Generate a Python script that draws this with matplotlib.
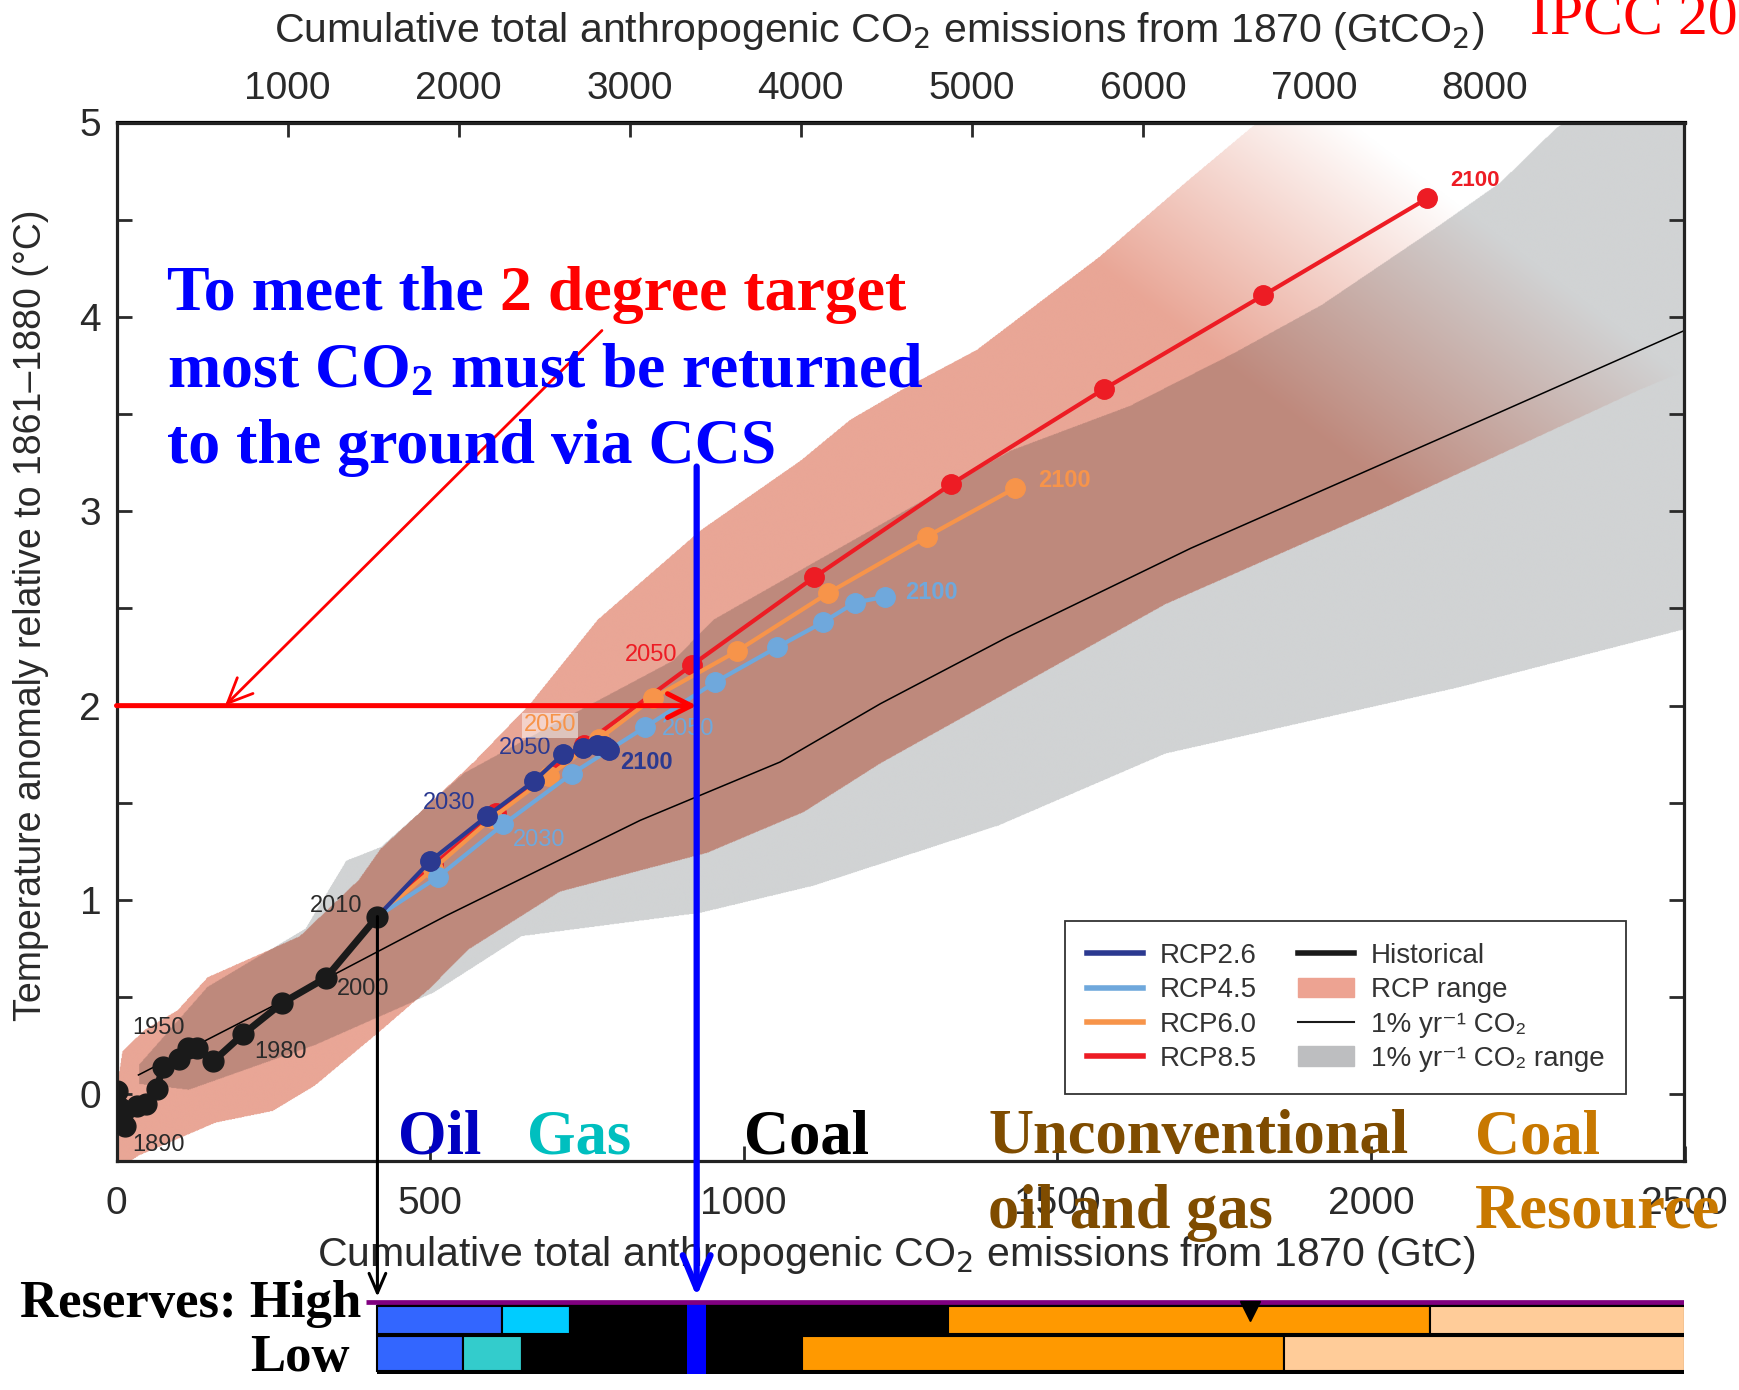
import numpy as np
import matplotlib
matplotlib.use("Agg")
import matplotlib.pyplot as plt
from matplotlib.path import Path
from matplotlib.patches import ConnectionPatch, Patch
from matplotlib.lines import Line2D

plt.rcParams['font.family'] = ['Liberation Sans', 'DejaVu Sans']
plt.rcParams['mathtext.fontset'] = 'dejavusans'
plt.rcParams['mathtext.rm'] = 'Liberation Serif:bold'
plt.rcParams['mathtext.it'] = 'Liberation Serif:bold'
plt.rcParams['mathtext.bf'] = 'Liberation Serif:bold'

# ---------------- data (cumulative GtC, temperature anomaly degC) ----------------
hist_years = [1870, 1880, 1890, 1900, 1910, 1920, 1930, 1940, 1950, 1960, 1970, 1980, 1990, 2000, 2010]
hist_x = [0, 5, 13, 32, 47, 64, 74, 99, 114, 129, 154, 202, 264, 334, 416]
hist_y = [0.02, -0.07, -0.16, -0.06, -0.05, 0.03, 0.14, 0.18, 0.24, 0.24, 0.17, 0.31, 0.47, 0.60, 0.915]

rcp_years = [2010, 2020, 2030, 2040, 2050, 2060, 2070, 2080, 2090, 2100]
rcp26_x = [416, 500, 590, 665, 712, 744, 766, 778, 782, 785]
rcp26_y = [0.915, 1.20, 1.43, 1.61, 1.75, 1.78, 1.80, 1.79, 1.78, 1.77]
rcp45_x = [416, 513, 617, 726, 843, 954, 1053, 1127, 1177, 1225]
rcp45_y = [0.915, 1.12, 1.39, 1.65, 1.89, 2.12, 2.30, 2.43, 2.53, 2.56]
rcp60_x = [416, 505, 598, 690, 770, 856, 989, 1135, 1292, 1433]
rcp60_y = [0.915, 1.16, 1.42, 1.64, 1.83, 2.04, 2.28, 2.58, 2.87, 3.12]
rcp85_x = [416, 505, 605, 745, 918, 1112, 1331, 1575, 1828, 2090]
rcp85_y = [0.915, 1.18, 1.45, 1.80, 2.21, 2.66, 3.14, 3.63, 4.11, 4.61]

pct_x = [35, 337, 526, 835, 1058, 1218, 1419, 1713, 2206, 2500]
pct_y = [0.10, 0.60, 0.92, 1.41, 1.71, 2.01, 2.35, 2.81, 3.51, 3.93]

rcp_up_x = [0, 8, 44, 96, 144, 242, 291, 385, 420, 569, 659, 766, 930, 1090, 1169, 1249, 1371, 1567, 1707, 1807, 2000, 2500]
rcp_up_y = [0.05, 0.22, 0.33, 0.43, 0.60, 0.74, 0.81, 1.10, 1.26, 1.71, 2.01, 2.44, 2.90, 3.26, 3.47, 3.62, 3.83, 4.31, 4.70, 4.97, 5.45, 6.2]
rcp_lo_x = [0, 15, 34, 157, 248, 315, 419, 498, 559, 706, 941, 1095, 1217, 1672, 2017, 2426, 2500]
rcp_lo_y = [-0.36, -0.36, -0.32, -0.15, -0.09, 0.04, 0.32, 0.54, 0.74, 1.04, 1.24, 1.45, 1.70, 2.52, 3.01, 3.62, 3.72]

pct_up_x = [35, 144, 300, 365, 420, 553, 718, 887, 951, 1425, 1615, 1780, 1921, 2100, 2206, 2295, 2500]
pct_up_y = [0.15, 0.55, 0.85, 1.20, 1.27, 1.65, 1.94, 2.23, 2.44, 3.31, 3.54, 3.81, 4.06, 4.45, 4.69, 4.97, 5.4]
pct_lo_x = [35, 114, 315, 505, 645, 930, 1111, 1406, 1672, 2139, 2500]
pct_lo_y = [0.05, 0.02, 0.25, 0.52, 0.81, 0.93, 1.07, 1.38, 1.75, 2.09, 2.39]

# fossil reserves beyond 2010 (cumulative GtC boundaries)
res_high = [416, 615, 723, 1326, 2095, 2500]
res_low = [416, 552, 647, 1093, 1862, 2500]
res_high_colors = ['#3366FF', '#00CCFF', '#000000', '#FF9900', '#FFCC99']
res_low_colors = ['#3366FF', '#33CCCC', '#000000', '#FF9900', '#FFCC99']
marker_x = 1807

ccs_x = 925
ccs_top = 3.23
target_temp = 2.0
diag_start = (774, 3.93)
diag_end = (173, 2.0)

x_ticks = [0, 500, 1000, 1500, 2000, 2500]
top_ticks = [1000, 2000, 3000, 4000, 5000, 6000, 7000, 8000, 9000]
top_labels = ['1000', '2000', '3000', '4000', '5000', '6000', '7000', '8000', '']
y_ticks = [0, 1, 2, 3, 4, 5]

C26, C45, C60, C85 = '#2B3990', '#6FA8DC', '#F7944A', '#ED1C24'
SALMON = np.array([233, 166, 150]) / 255
GRAY = np.array([209, 211, 212]) / 255
TXT = '#2a2a2a'

W, H = 1739, 1390
fig = plt.figure(figsize=(W / 100, H / 100), dpi=100)


def fx(px):
    return px / W


def fy(py):
    return 1 - py / H


ax = fig.add_axes([fx(116.5), fy(1160.5), (1684.5 - 116.5) / W, (1160.5 - 122.5) / H])
XMIN, XMAX, YMIN, YMAX = 0, 2500, -0.34, 5

# ---------------- shaded ranges (multiply blend, fading toward upper right) ----------------
nx, ny = 2400, 1600
gx = np.linspace(XMIN, XMAX, nx)
gy = np.linspace(YMIN, YMAX, ny)
GX, GY = np.meshgrid(gx, gy)
pts = np.column_stack([GX.ravel(), GY.ravel()])
rcp_poly = np.column_stack([rcp_up_x + rcp_lo_x[::-1], rcp_up_y + rcp_lo_y[::-1]])
pct_poly = np.column_stack([pct_up_x + pct_lo_x[::-1], pct_up_y + pct_lo_y[::-1]])
in_rcp = Path(rcp_poly).contains_points(pts).reshape(ny, nx)
in_pct = Path(pct_poly).contains_points(pts).reshape(ny, nx)
fade = np.clip((4000 - (GX + 407 * GY)) / 700.0, 0, 1)
rgb = np.ones((ny, nx, 3))
rgb[in_pct] = GRAY
tint = 1 - fade[..., None] * (1 - SALMON)
rgb = np.where(in_rcp[..., None], rgb * tint, rgb)
alpha = (in_rcp | in_pct).astype(float)
rgba = np.dstack([rgb, alpha])
ax.imshow(rgba, extent=(XMIN, XMAX, YMIN, YMAX), origin='lower', aspect='auto',
          interpolation='antialiased', zorder=1)

# ---------------- lines ----------------
ax.plot(pct_x, pct_y, color='k', lw=1.1, zorder=2)
for xs, ys, c, z in [(rcp85_x, rcp85_y, C85, 3), (rcp60_x, rcp60_y, C60, 4),
                     (rcp45_x, rcp45_y, C45, 5), (rcp26_x, rcp26_y, C26, 6)]:
    ax.plot(xs, ys, color=c, lw=3.0, marker='o', ms=14, zorder=z)
ax.plot(hist_x, hist_y, color='#1a1a1a', lw=5, marker='o', ms=15, zorder=7)

# ---------------- year labels ----------------
lab = dict(fontsize=17, zorder=8, ha='center', va='center')
ax.text(67, -0.26, '1890', color=TXT, **lab)
ax.text(67, 0.34, '1950', color=TXT, **lab)
ax.text(262, 0.22, '1980', color=TXT, **lab)
ax.text(394, 0.54, '2000', color=TXT, **lab)
ax.text(350, 0.97, '2010', color=TXT, **lab)
ax.text(530, 1.50, '2030', color=C26, **lab)
ax.text(651, 1.78, '2050', color=C26, **lab)
ax.text(845, 1.71, '2100', color=C26, fontweight='bold', **lab)
ax.text(674, 1.31, '2030', color=C45, **lab)
ax.text(911, 1.88, '2050', color=C45, **lab)
ax.text(1300, 2.58, '2100', color=C45, fontweight='bold', **lab)
ax.text(691, 1.90, '2050', color=C60,
        bbox=dict(facecolor='white', alpha=0.5, edgecolor='none', pad=1), **lab)
ax.text(1512, 3.16, '2100', color=C60, fontweight='bold', **lab)
ax.text(852, 2.26, '2050', color=C85, **lab)
ax.text(2166, 4.70, '2100', color=C85, fontweight='bold', fontsize=16, zorder=8,
        ha='center', va='center')

# ---------------- axes styling ----------------
ax.set_xlim(XMIN, XMAX)
ax.set_ylim(YMIN, YMAX)
ax.set_xticks(x_ticks)
ax.set_yticks(y_ticks)
ax.set_yticks(np.arange(0.5, 5, 1.0), minor=True)
ax.tick_params(which='both', direction='in', length=11, width=2, color=TXT,
               right=True, top=False, labelsize=28, labelcolor=TXT)
ax.tick_params(axis='x', pad=18)
ax.tick_params(axis='y', pad=11)
for s in ax.spines.values():
    s.set_linewidth(2.3)
    s.set_color('#222222')

sec = ax.secondary_xaxis('top', functions=(lambda v: v * 44 / 12, lambda v: v * 12 / 44))
sec.set_xticks(top_ticks)
sec.set_xticklabels(top_labels)
sec.tick_params(direction='in', length=11, width=2, color=TXT, labelsize=28,
                labelcolor=TXT, pad=11)
sec.spines['top'].set_linewidth(2.3)

fig.text(fx(879), fy(31), 'Cumulative total anthropogenic CO$_2$ emissions from 1870 (GtCO$_2$)',
         fontsize=29.5, color=TXT, ha='center', va='center')
fig.text(fx(896), fy(1255), 'Cumulative total anthropogenic CO$_2$ emissions from 1870 (GtC)',
         fontsize=29.5, color=TXT, ha='center', va='center')
fig.text(fx(31), fy(615), 'Temperature anomaly relative to 1861\u20131880 (\u00b0C)',
         fontsize=27, color=TXT, ha='center', va='center', rotation=90)

# ---------------- legend ----------------
handles = [Line2D([], [], color=C26, lw=4), Line2D([], [], color=C45, lw=4),
           Line2D([], [], color=C60, lw=4), Line2D([], [], color=C85, lw=4),
           Line2D([], [], color='#1a1a1a', lw=4), Patch(color='#EDA392'),
           Line2D([], [], color='#1a1a1a', lw=1.5), Patch(color='#BDBEC0')]
labels = ['RCP2.6', 'RCP4.5', 'RCP6.0', 'RCP8.5', 'Historical', 'RCP range',
          '1% yr\u207b\u00b9 CO\u2082', '1% yr\u207b\u00b9 CO\u2082 range']
leg = ax.legend(handles, labels, ncol=2, loc='upper left', bbox_to_anchor=(0.605, 0.231),
                borderaxespad=0, fontsize=20, frameon=True, fancybox=False, framealpha=1,
                edgecolor='#333333', handlelength=2.0, handletextpad=0.6, columnspacing=1.5,
                labelspacing=0.3, borderpad=0.8)
leg.get_frame().set_linewidth(1.3)
for t in leg.get_texts():
    t.set_color('#333333')
leg.set_zorder(10)

# ---------------- annotation arrows in the plot ----------------
ax.annotate('', xy=(ccs_x, target_temp), xytext=(XMIN, target_temp),
            arrowprops=dict(arrowstyle='->,head_length=0.85,head_width=0.43', color='red',
                            lw=3.6, mutation_scale=20, shrinkA=0, shrinkB=0),
            zorder=9, annotation_clip=False)
ax.annotate('', xy=diag_end, xytext=diag_start,
            arrowprops=dict(arrowstyle='->,head_length=0.9,head_width=0.4', color='red',
                            lw=2.0, mutation_scale=20, shrinkA=0, shrinkB=0),
            zorder=9, annotation_clip=False)

# ---------------- reserves bar ----------------
bax = fig.add_axes([fx(116.5), fy(1376), (1684.5 - 116.5) / W, 80 / H])
bax.set_xlim(XMIN, XMAX)
bax.set_ylim(-0.678, 1.710)
bax.axis('off')
bax.barh(0.4265, res_high[-1] - res_high[0], left=res_high[0], height=2.089, color='k')
for i, c in enumerate(res_high_colors):
    bax.barh(1, res_high[i + 1] - res_high[i], left=res_high[i], height=0.827,
             color=c, edgecolor='k', lw=1.5)
for i, c in enumerate(res_low_colors):
    bax.barh(0, res_low[i + 1] - res_low[i], left=res_low[i], height=1.036,
             color=c, edgecolor='k', lw=1.5)
bax.hlines(1.540, 398, XMAX, color='#800080', lw=3.4)
bax.bar(ccs_x, 2.089, bottom=-0.618, width=30, color='#0000FF')
bax.vlines(marker_x, 1.23, 1.540, color='k', lw=1.2)
bax.plot(marker_x, 1.25, marker='v', ms=15, color='k')

fig.add_artist(ConnectionPatch(xyA=(hist_x[-1], hist_y[-1]), coordsA=ax.transData,
                               xyB=(hist_x[-1], 1.689), coordsB=bax.transData,
                               arrowstyle='->,head_length=0.7,head_width=0.3', mutation_scale=20,
                               lw=2.2, color='k', shrinkA=0, shrinkB=0, zorder=9))
fig.add_artist(ConnectionPatch(xyA=(ccs_x, ccs_top), coordsA=ax.transData,
                               xyB=(ccs_x, 1.689), coordsB=bax.transData,
                               arrowstyle='->,head_length=1.2,head_width=0.5', mutation_scale=20,
                               lw=4.5, color='#0000FF', shrinkA=0, shrinkB=0, zorder=9))

# ---------------- slide text ----------------
SERIF = ['Liberation Serif', 'DejaVu Serif']
big = dict(fontsize=46, fontweight='bold', family=SERIF, va='baseline', ha='left', zorder=12)
t1 = fig.text(fx(167), fy(310), 'To meet the ', color='#0000FF', **big)
ax.annotate('2 degree target', xy=(1, 0), xycoords=t1, va='bottom', ha='left',
            color='#FF0000', fontsize=46, fontweight='bold', family=SERIF, annotation_clip=False)
fig.text(fx(167), fy(387), 'most CO$_2$ must be returned', color='#0000FF',
         math_fontfamily='custom', **big)
fig.text(fx(167), fy(463), 'to the ground via CCS', color='#0000FF', **big)

fig.text(fx(1530), fy(34), 'IPCC 2013', color='#FF0000', fontsize=43, family=SERIF,
         va='baseline', ha='left')

res = dict(fontsize=45, fontweight='bold', family=SERIF, va='baseline', ha='left')
fig.text(fx(398), fy(1153), 'Oil', color='#0000C0', **res)
fig.text(fx(527), fy(1153), 'Gas', color='#00BFBF', **res)
fig.text(fx(744), fy(1153), 'Coal', color='#000000', **res)
fig.text(fx(988), fy(1153), 'Unconventional', color='#7F4C00', **res)
fig.text(fx(988), fy(1228), 'oil and gas', color='#7F4C00', **res)
fig.text(fx(1475), fy(1153), 'Coal', color='#C87800', **res)
fig.text(fx(1475), fy(1228), 'Resource', color='#C87800', **res)

lbl = dict(fontsize=38, fontweight='bold', family=SERIF, va='baseline', ha='right')
fig.text(fx(361), fy(1317), 'Reserves: High', color='k', **lbl)
fig.text(fx(350), fy(1371), 'Low', color='k', **lbl)

fig.savefig('out.png', dpi=100)
